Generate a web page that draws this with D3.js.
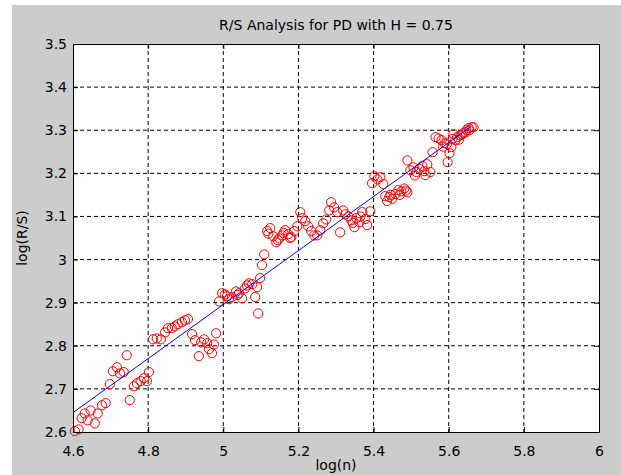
<!DOCTYPE html>
<html>
<head>
<meta charset="utf-8">
<script src="https://cdn.jsdelivr.net/npm/d3@7"></script>
<style>
  body { margin: 0; background: #fff; }
  text { font-family: "DejaVu Sans", sans-serif; font-size: 14px; fill: #000; }
</style>
</head>
<body>
<svg id="chart"></svg>
<script>
// log(n) and log(R/S)
const logN = [
  4.605, 4.615, 4.623, 4.631, 4.639, 4.647, 4.658, 4.666, 4.677, 4.687,
  4.698, 4.706, 4.717, 4.725, 4.735, 4.743, 4.751, 4.762, 4.770, 4.780,
  4.789, 4.797, 4.802,
  4.813, 4.823, 4.834, 4.845, 4.853, 4.863, 4.871, 4.879, 4.890, 4.898,
  4.906, 4.917, 4.925, 4.935, 4.941, 4.949, 4.957, 4.962, 4.970, 4.975,
  4.981, 4.989, 4.997, 5.005, 5.010, 5.015, 5.023, 5.034, 5.038, 5.042,
  5.050, 5.058, 5.063, 5.068, 5.077, 5.085, 5.090, 5.093, 5.098,
  5.103, 5.109, 5.117, 5.120, 5.125, 5.133, 5.141, 5.145, 5.149, 5.157,
  5.160, 5.165, 5.173, 5.178, 5.181, 5.189, 5.197, 5.205, 5.210, 5.218,
  5.226, 5.234, 5.242, 5.250, 5.258, 5.266, 5.274, 5.282, 5.287,
  5.295, 5.303, 5.311, 5.319, 5.325, 5.333, 5.341, 5.345, 5.349, 5.354,
  5.362, 5.365, 5.370, 5.378, 5.383, 5.391, 5.396, 5.402, 5.410, 5.418,
  5.426, 5.431, 5.436, 5.442, 5.445, 5.450, 5.458, 5.466, 5.470, 5.474,
  5.482, 5.486, 5.490, 5.490, 5.498, 5.506, 5.510, 5.514, 5.522, 5.530,
  5.535, 5.538, 5.543, 5.551, 5.557, 5.565, 5.573, 5.581, 5.585, 5.589,
  5.595, 5.597, 5.602, 5.607, 5.610, 5.613, 5.618, 5.623, 5.627, 5.631,
  5.635, 5.639, 5.645, 5.647, 5.653, 5.655, 5.661, 5.666
];
const logRS = [
  2.602, 2.606, 2.632, 2.643, 2.627, 2.650, 2.620, 2.643, 2.662, 2.667,
  2.711, 2.741, 2.750, 2.736, 2.739, 2.778, 2.674, 2.706, 2.713, 2.718,
  2.725, 2.718, 2.739,
  2.815, 2.817, 2.815, 2.831, 2.841, 2.841, 2.845, 2.850, 2.855, 2.859,
  2.862, 2.827, 2.813, 2.776, 2.808, 2.815, 2.806, 2.792, 2.783, 2.803,
  2.829, 2.903, 2.922, 2.919, 2.915, 2.908, 2.913, 2.926, 2.918, 2.922,
  2.910, 2.933, 2.940, 2.945, 2.943, 2.913, 2.936, 2.875, 2.957,
  2.987, 3.012, 3.066, 3.060, 3.073, 3.054, 3.040, 3.045, 3.049, 3.056,
  3.062, 3.068, 3.059, 3.050, 3.052, 3.066, 3.077, 3.110, 3.096, 3.089,
  3.077, 3.066, 3.056, 3.056, 3.068, 3.084, 3.093, 3.114, 3.133,
  3.121, 3.110, 3.063, 3.114, 3.105, 3.100, 3.091, 3.085, 3.075, 3.096,
  3.087, 3.100, 3.110, 3.094, 3.080, 3.112, 3.177, 3.193, 3.186, 3.191,
  3.175, 3.147, 3.136, 3.145, 3.150, 3.141, 3.152, 3.161, 3.150, 3.158,
  3.165, 3.160, 3.156, 3.230, 3.207, 3.214, 3.195, 3.203, 3.210, 3.217,
  3.205, 3.196, 3.221, 3.203, 3.249, 3.284, 3.281, 3.277, 3.262, 3.270,
  3.268, 3.226, 3.247, 3.261, 3.280, 3.291, 3.277, 3.284, 3.278, 3.288,
  3.290, 3.293, 3.295, 3.300, 3.305, 3.300, 3.307, 3.307
];

// fitted line end points
const fitX = [4.6, 5.66];
const fitY = [2.645, 3.309];

const xTicks = [4.6, 4.8, 5, 5.2, 5.4, 5.6, 5.8, 6];
const yTicks = [2.6, 2.7, 2.8, 2.9, 3, 3.1, 3.2, 3.3, 3.4, 3.5];

const title = "R/S Analysis for PD with H = 0.75";
const xLabel = "log(n)";
const yLabel = "log(R/S)";

const W = 621, H = 475;
const margin = { top: 44, right: 22, bottom: 43, left: 73 },
      width  = W - margin.left - margin.right,
      height = H - margin.top  - margin.bottom;

const svg = d3.select("#chart")
  .attr("width", W)
  .attr("height", H);

// window frame
svg.append("rect")
  .attr("x", 12).attr("y", 6)
  .attr("width", W - 12).attr("height", H - 6)
  .attr("fill", "#cccccc");
svg.append("line")
  .attr("x1", 12).attr("x2", W)
  .attr("y1", 5.5).attr("y2", 5.5)
  .attr("stroke", "#d6cfb8");

const g = svg.append("g")
  .attr("transform", `translate(${margin.left},${margin.top})`);

const x = d3.scaleLinear().domain([4.6, 6]).range([0, width]);
const y = d3.scaleLinear().domain([2.6, 3.5]).range([height, 0]);

g.append("rect")
  .attr("width", width)
  .attr("height", height)
  .attr("fill", "#fff");

// dashed grid
g.append("g")
  .selectAll("line")
  .data(xTicks.slice(1, -1))
  .join("line")
  .attr("x1", d => x(d)).attr("x2", d => x(d))
  .attr("y1", 0).attr("y2", height)
  .attr("stroke", "#000")
  .attr("stroke-dasharray", "4,3");

g.append("g")
  .selectAll("line")
  .data(yTicks.slice(1, -1))
  .join("line")
  .attr("x1", 0).attr("x2", width)
  .attr("y1", d => y(d)).attr("y2", d => y(d))
  .attr("stroke", "#000")
  .attr("stroke-dasharray", "4,3");

// data points
g.append("g")
  .selectAll("circle")
  .data(logN.map((n, i) => [n, logRS[i]]))
  .join("circle")
  .attr("cx", d => x(d[0]))
  .attr("cy", d => y(d[1]))
  .attr("r", 4.6)
  .attr("fill", "none")
  .attr("stroke", "#ff0000")
  .attr("stroke-width", 1);

// fitted line
g.append("path")
  .datum(fitX.map((v, i) => [v, fitY[i]]))
  .attr("d", d3.line().x(d => x(d[0])).y(d => y(d[1])))
  .attr("fill", "none")
  .attr("stroke", "#0000ff")
  .attr("stroke-width", 1);

// axes, ticks pointing inward
const fmt = d => String(d);

g.append("g")
  .attr("transform", `translate(0,${height})`)
  .call(d3.axisBottom(x).tickValues(xTicks).tickFormat(fmt)
        .tickSizeInner(-5).tickSizeOuter(0).tickPadding(14));

g.append("g")
  .call(d3.axisLeft(y).tickValues(yTicks).tickFormat(fmt)
        .tickSizeInner(-5).tickSizeOuter(0).tickPadding(6));

g.append("g")
  .call(d3.axisTop(x).tickValues(xTicks).tickFormat("")
        .tickSizeInner(-5).tickSizeOuter(0));

g.append("g")
  .attr("transform", `translate(${width},0)`)
  .call(d3.axisRight(y).tickValues(yTicks).tickFormat("")
        .tickSizeInner(-5).tickSizeOuter(0));

g.selectAll(".domain").attr("stroke", "#000");
g.selectAll(".tick line").attr("stroke", "#000");
g.selectAll(".tick text")
  .style("font-family", "DejaVu Sans, sans-serif")
  .style("font-size", "14px")
  .attr("fill", "#000");

// titles
svg.append("text")
  .attr("x", margin.left + width / 2)
  .attr("y", 30)
  .attr("text-anchor", "middle")
  .text(title);

svg.append("text")
  .attr("x", margin.left + width / 2)
  .attr("y", 470)
  .attr("text-anchor", "middle")
  .text(xLabel);

svg.append("text")
  .attr("transform", `translate(27,${margin.top + height / 2}) rotate(-90)`)
  .attr("text-anchor", "middle")
  .text(yLabel);
</script>
</body>
</html>
